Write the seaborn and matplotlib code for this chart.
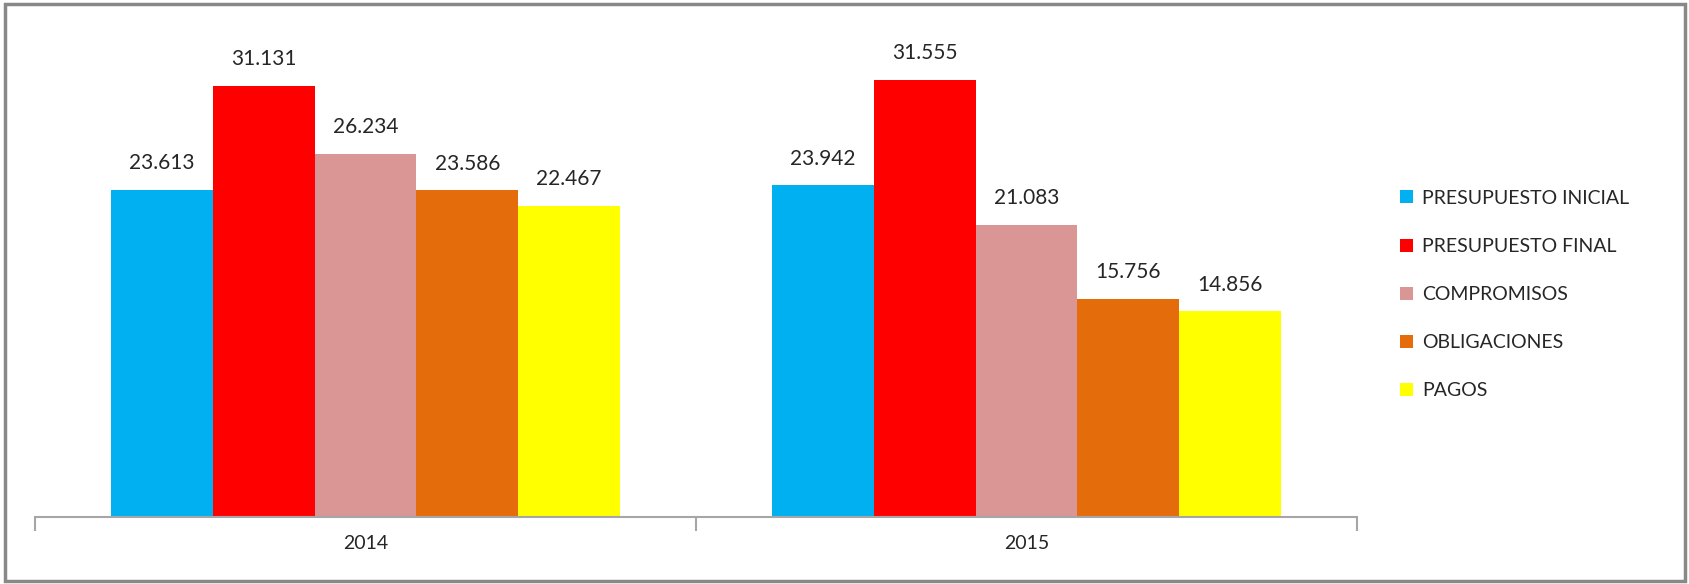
import pandas as pd
import matplotlib.pyplot as plt
import seaborn as sns
from matplotlib.patches import Rectangle

# Datos
anios = ['2014', '2015']
series = ['PRESUPUESTO INICIAL', 'PRESUPUESTO FINAL', 'COMPROMISOS', 'OBLIGACIONES', 'PAGOS']
valores_2014 = [23.613, 31.131, 26.234, 23.586, 22.467]
valores_2015 = [23.942, 31.555, 21.083, 15.756, 14.856]
colores = ['#00B0F0', '#FF0000', '#D99694', '#E46C0A', '#FFFF00']

filas = []
for anio, vals in zip(anios, [valores_2014, valores_2015]):
    for s, v in zip(series, vals):
        filas.append({'anio': anio, 'serie': s, 'valor': v})
df = pd.DataFrame(filas)

sns.set_style('white')
plt.rcParams['font.family'] = ['Lato', 'DejaVu Sans']

fig = plt.figure(figsize=(16.9, 5.84), dpi=100)
ax = fig.add_axes([0.0207, 0.1147, 0.7823, 0.8303])

sns.barplot(data=df, x='anio', y='valor', hue='serie', hue_order=series,
            palette=colores, width=0.77, saturation=1, gap=0, ax=ax,
            errorbar=None, linewidth=0)

# Etiquetas de valor
for cont in ax.containers:
    ax.bar_label(cont, fmt='%.3f', padding=12, fontsize=15, color='#262626')

ax.set_ylim(0, 35)
ax.set_xlim(-0.5, 1.5)
ax.set_xlabel('')
ax.set_ylabel('')
ax.set_yticks([])
for lado in ['top', 'right', 'left']:
    ax.spines[lado].set_visible(False)
ax.spines['bottom'].set_color('#A6A6A6')
ax.spines['bottom'].set_linewidth(1.5)

# Marcas entre categorias, estilo Excel
ax.set_xticks([-0.5, 0.5, 1.5], minor=True)
ax.tick_params(axis='x', which='minor', length=10, width=1.5, color='#A6A6A6', bottom=True)
ax.tick_params(axis='x', which='major', length=0, pad=13, labelsize=14, labelcolor='#262626')

# Leyenda
handles, labels = ax.get_legend_handles_labels()
ax.legend(handles, labels, loc='upper left', bbox_to_anchor=(0.818, 0.705),
          bbox_transform=fig.transFigure, frameon=False, fontsize=14,
          handlelength=0.65, handleheight=0.65, handletextpad=0.5,
          labelspacing=1.6, labelcolor='#262626')

# Borde del grafico
fig.patches.append(Rectangle((0.003, 0.005), 0.994, 0.988, transform=fig.transFigure,
                             fill=False, edgecolor='#888888', linewidth=2.5))

plt.savefig('out.png', dpi=100)
